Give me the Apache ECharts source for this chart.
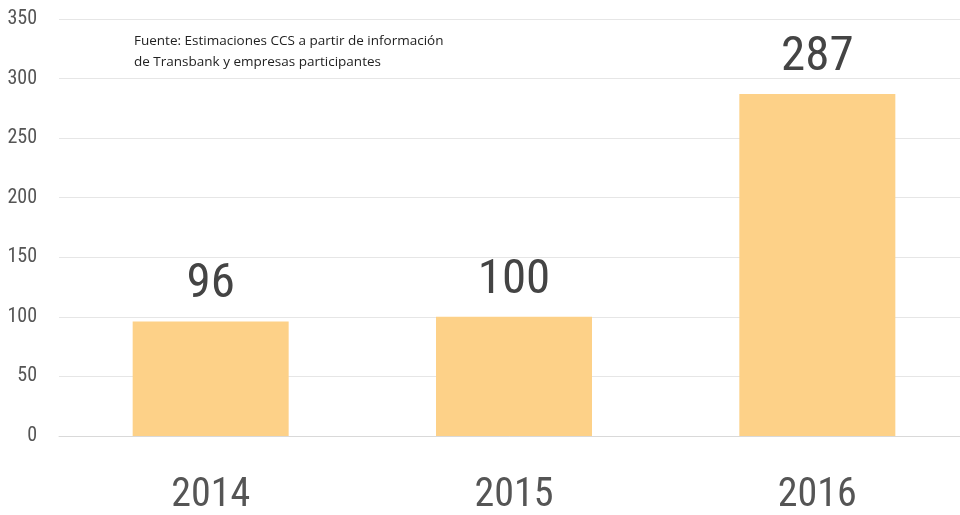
<!DOCTYPE html>
<html>
<head>
<meta charset="utf-8">
<script src="https://cdn.jsdelivr.net/npm/echarts@6/dist/echarts.min.js"></script>
<style>
  html, body { margin: 0; padding: 0; background: #fff; }
  #container { width: 960px; height: 515px; }
</style>
</head>
<body>
<div id="container"></div>
<script>
var years = ['2014', '2015', '2016'];
var values = [96, 100, 287];
var yTicks = [0, 50, 100, 150, 200, 250, 300, 350];
var sourceLines = ['Fuente: Estimaciones CCS a partir de información', 'de Transbank y empresas participantes'];

var narrow = '"Roboto Condensed", "Noto Sans ExtraCondensed", "Noto Sans Condensed", "Liberation Sans Narrow", "DejaVu Sans Condensed", sans-serif';

var chart = echarts.init(document.getElementById('container'));
chart.setOption({
    animation: false,
    grid: {
        left: 59,
        width: 910,
        top: 19,
        bottom: 79,
        outerBoundsMode: 'none'
    },
    graphic: [{
        type: 'text',
        left: 134,
        top: 31,
        style: {
            text: sourceLines.join('\n'),
            font: '13.5px "Open Sans", sans-serif',
            lineHeight: 21,
            fill: '#222'
        }
    }],
    xAxis: {
        type: 'category',
        data: years,
        axisTick: { show: false },
        axisLine: { lineStyle: { color: '#d9d9d9', width: 1 } },
        axisLabel: {
            color: '#555',
            fontFamily: narrow,
            fontSize: 40,
            margin: 40
        }
    },
    yAxis: {
        type: 'value',
        min: yTicks[0],
        max: yTicks[yTicks.length - 1],
        interval: 50,
        axisLine: { show: false },
        axisTick: { show: false },
        splitLine: { lineStyle: { color: '#e6e6e6', width: 1 } },
        axisLabel: {
            color: '#555',
            fontFamily: narrow,
            fontSize: 20,
            margin: 22
        }
    },
    series: [{
        type: 'bar',
        data: values,
        barWidth: 156,
        itemStyle: { color: '#FDD188' },
        label: {
            show: true,
            position: 'top',
            distance: 12,
            color: '#444',
            fontFamily: narrow,
            fontSize: 49
        }
    }]
});
</script>
</body>
</html>
